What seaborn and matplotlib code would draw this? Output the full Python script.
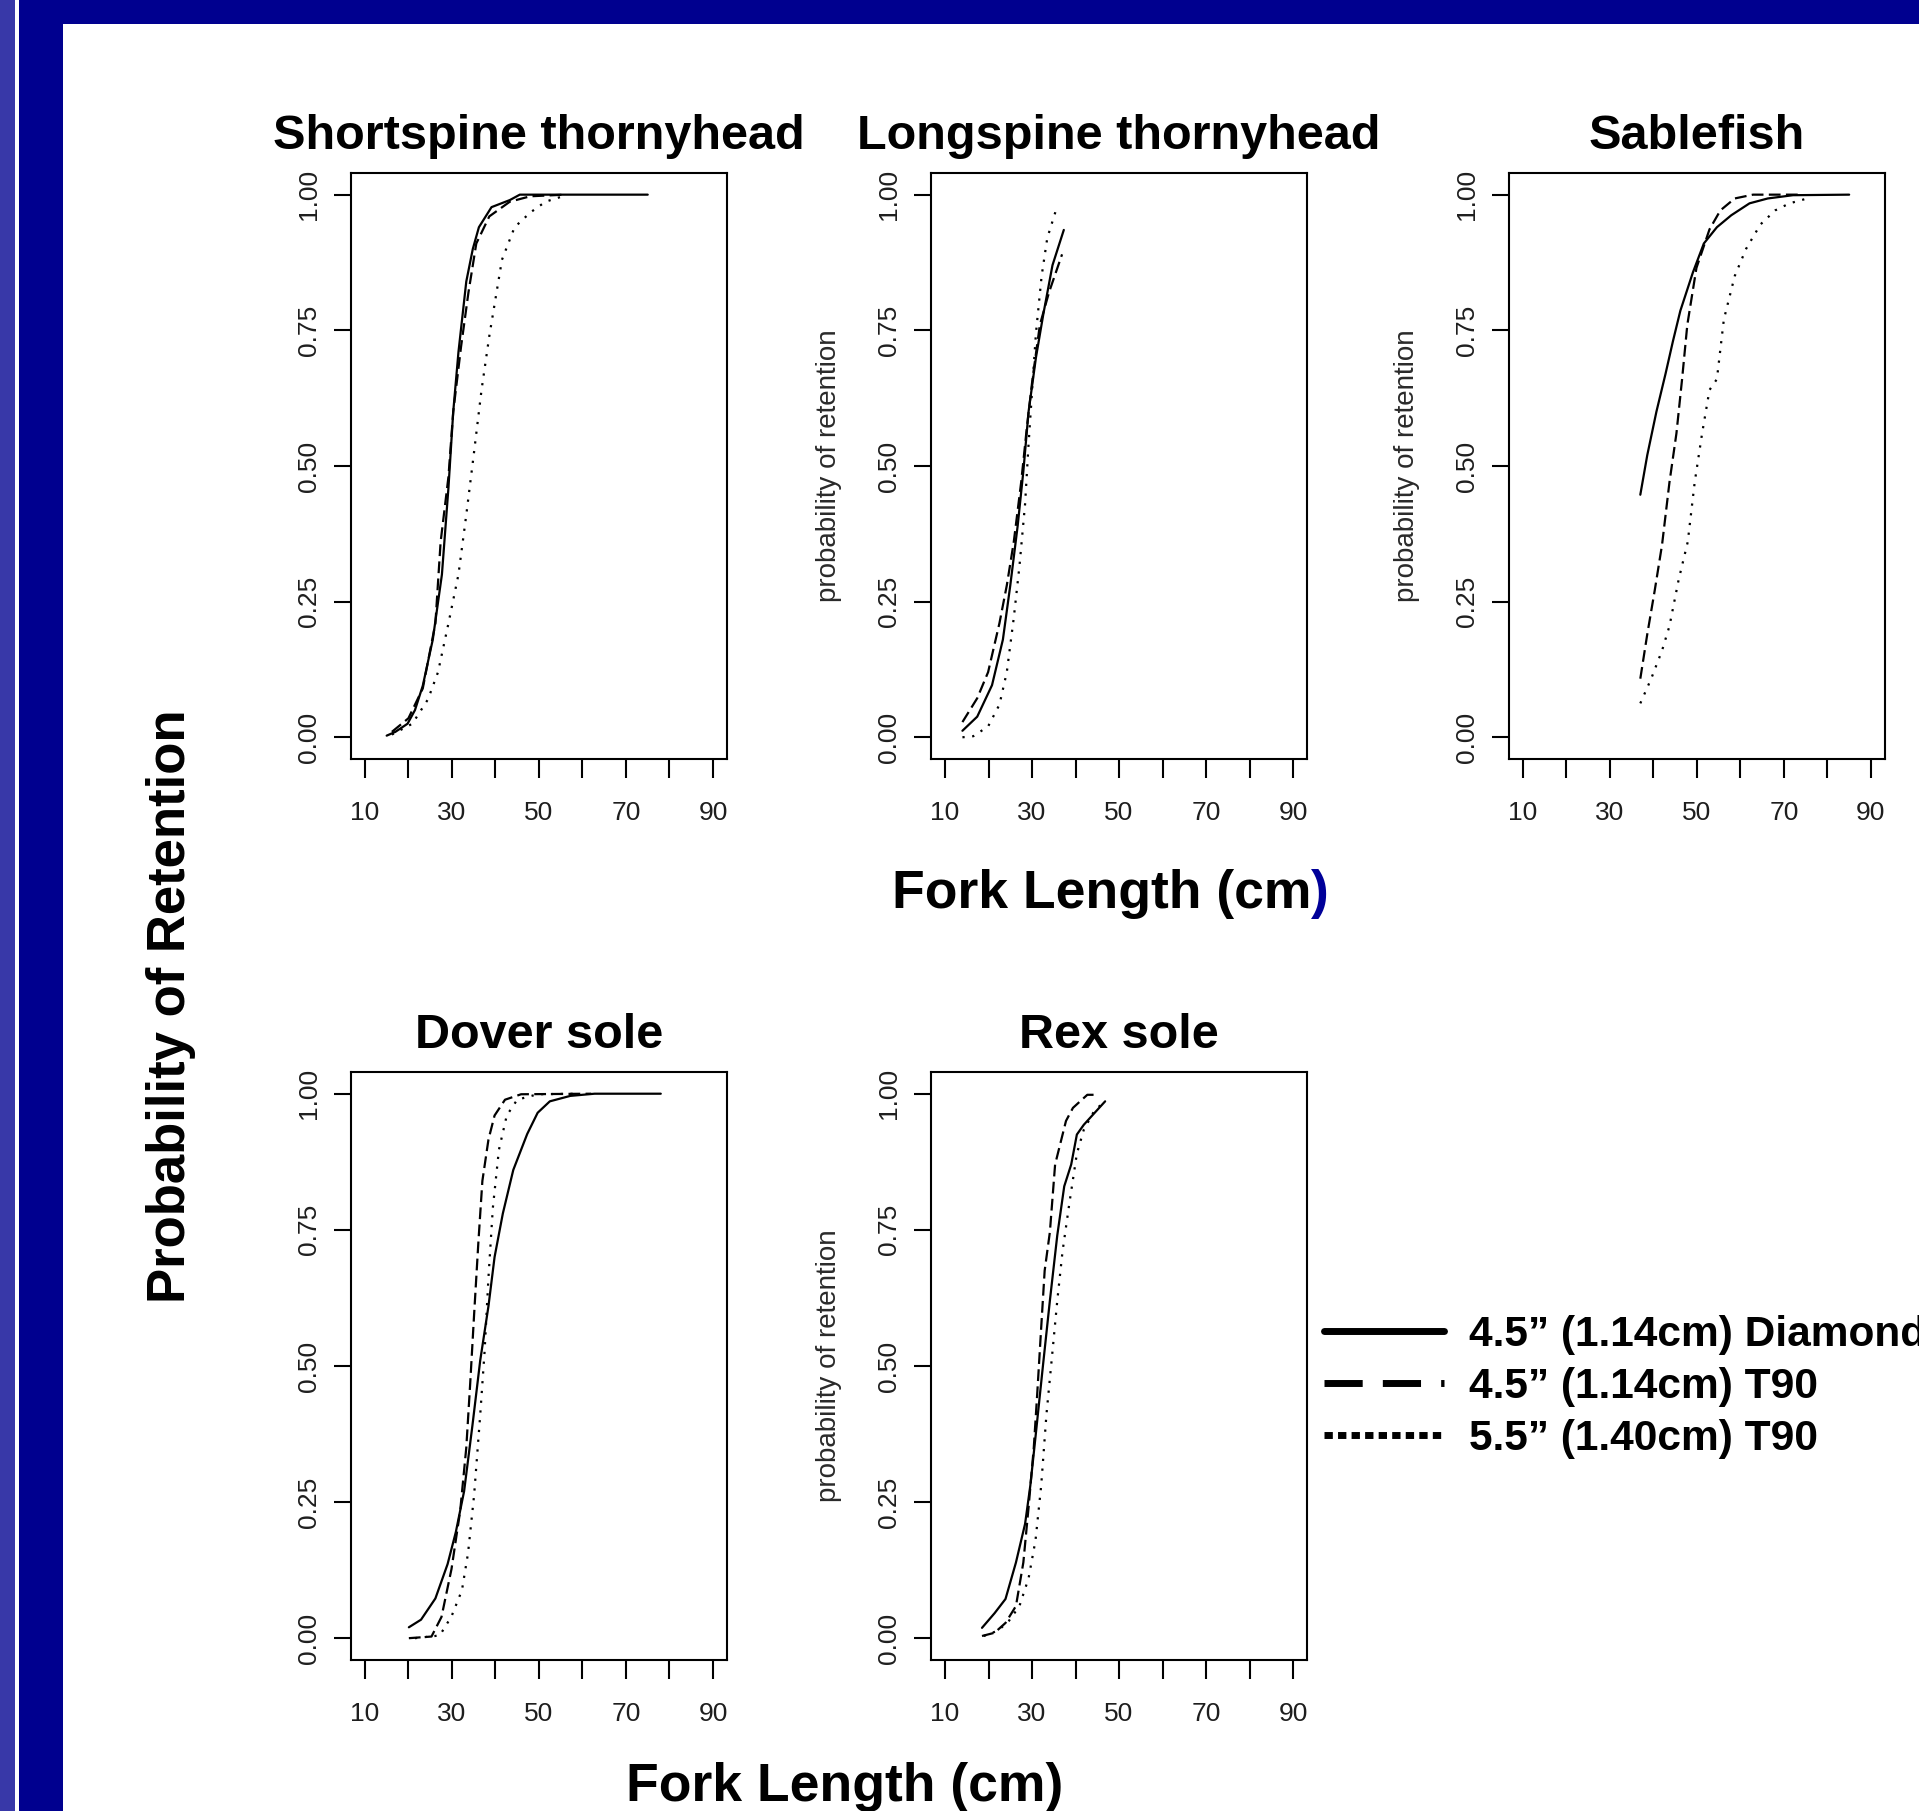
import numpy as np
import pandas as pd
import matplotlib
matplotlib.use("Agg")
import matplotlib.pyplot as plt
import seaborn as sns
from matplotlib.lines import Line2D
from matplotlib.patches import Rectangle
from matplotlib.text import Annotation

# gear types (legend order) and species panels
gears = ["4.5\u201d (1.14cm) Diamond", "4.5\u201d (1.14cm) T90", "5.5\u201d (1.40cm) T90"]
species = ["Shortspine thornyhead", "Longspine thornyhead", "Sablefish", "Dover sole", "Rex sole"]

# values: fork length (cm) and probability of retention
short_dia_len = [15, 17, 19.8, 21.5, 23.3, 25.6, 27.7, 29.2, 30.3, 31.5, 33.3, 34.8, 36.2, 39.1, 43.3, 45.6, 75]
short_dia_p = [0.003, 0.01, 0.025, 0.05, 0.095, 0.18, 0.30, 0.46, 0.60, 0.71, 0.84, 0.90, 0.94, 0.977, 0.99, 1.0, 1.0]
short_t45_len = [16.2, 20, 23.3, 26.2, 27.4, 29.2, 30.3, 32.1, 33.8, 35.6, 38.6, 43.3, 48, 56]
short_t45_p = [0.01, 0.035, 0.09, 0.21, 0.36, 0.48, 0.60, 0.72, 0.82, 0.91, 0.96, 0.987, 0.997, 1.0]
short_t55_len = [16.2, 20.9, 24.5, 26.8, 29.2, 31.5, 33.3, 35.0, 36.8, 38.6, 41.5, 44.4, 48, 51.5, 55.5]
short_t55_p = [0.005, 0.025, 0.07, 0.12, 0.21, 0.30, 0.41, 0.52, 0.64, 0.74, 0.88, 0.94, 0.967, 0.987, 0.997]

long_dia_len = [14, 17.4, 20.8, 23.3, 25.0, 26.7, 28.0, 29.2, 30.9, 32.6, 34.7, 37.3]
long_dia_p = [0.012, 0.038, 0.096, 0.18, 0.28, 0.39, 0.49, 0.60, 0.70, 0.78, 0.87, 0.935]
long_t45_len = [14, 17.4, 19.9, 22.5, 24.2, 25.8, 27.5, 28.8, 30.1, 31.8, 33.9, 36.9]
long_t45_p = [0.028, 0.072, 0.12, 0.21, 0.28, 0.36, 0.47, 0.57, 0.66, 0.76, 0.82, 0.89]
long_t55_len = [14, 16.5, 19.9, 22.5, 24.2, 25.8, 27.1, 28.4, 29.2, 30.1, 30.9, 32.2, 33.5, 35.6]
long_t55_p = [0.0, 0.002, 0.02, 0.06, 0.12, 0.22, 0.315, 0.43, 0.54, 0.65, 0.745, 0.85, 0.92, 0.974]

sable_dia_len = [37, 38.6, 40.7, 42.8, 44.5, 46.2, 49.1, 51.6, 54.6, 57.9, 62.1, 66.3, 72.1, 85]
sable_dia_p = [0.447, 0.52, 0.60, 0.67, 0.73, 0.786, 0.857, 0.91, 0.94, 0.962, 0.984, 0.993, 0.999, 1.0]
sable_t45_len = [37, 38.6, 40.3, 42, 43.7, 45.3, 46.6, 47.8, 49.9, 52.9, 55.4, 58.7, 62.9, 73.5]
sable_t45_p = [0.108, 0.19, 0.27, 0.355, 0.47, 0.56, 0.66, 0.76, 0.865, 0.936, 0.971, 0.993, 1.0, 1.0]
sable_t55_len = [37, 39.5, 42, 43.7, 45.8, 47.9, 49.5, 51.2, 52.9, 54.6, 56.2, 58.7, 61.3, 64.6, 68, 71.3, 76.3]
sable_t55_p = [0.0625, 0.108, 0.16, 0.205, 0.29, 0.36, 0.47, 0.56, 0.64, 0.66, 0.77, 0.85, 0.90, 0.945, 0.971, 0.984, 0.995]

dover_dia_len = [20.1, 22.9, 26.2, 29.0, 30.9, 32.8, 34.7, 36.5, 38.4, 39.8, 41.7, 44.1, 47.3, 49.7, 52.5, 57.2, 62.8, 78]
dover_dia_p = [0.02, 0.034, 0.073, 0.136, 0.195, 0.27, 0.39, 0.51, 0.61, 0.70, 0.78, 0.86, 0.926, 0.965, 0.986, 0.996, 1.0, 1.0]
dover_t45_len = [20.1, 25.3, 27.6, 29.9, 31.9, 33.3, 34.2, 35.1, 36.1, 37.0, 38.4, 39.8, 42.2, 45.9, 62]
dover_t45_p = [0.0, 0.003, 0.039, 0.127, 0.234, 0.35, 0.468, 0.595, 0.73, 0.84, 0.916, 0.96, 0.989, 0.999, 1.0]
dover_t55_len = [21.5, 27.2, 29.9, 32.3, 33.7, 35.1, 36.5, 37.5, 38.4, 39.4, 40.8, 42.6, 45, 49.7, 59]
dover_t55_p = [0.0, 0.005, 0.04, 0.088, 0.156, 0.263, 0.41, 0.526, 0.663, 0.79, 0.897, 0.96, 0.989, 0.999, 1.0]

rex_dia_len = [18.5, 21.4, 23.9, 26.3, 28.4, 29.6, 30.8, 32.5, 34.1, 35.8, 37.4, 39.0, 40.3, 41.9, 44.4, 46.8]
rex_dia_p = [0.019, 0.046, 0.072, 0.139, 0.21, 0.28, 0.37, 0.50, 0.62, 0.74, 0.83, 0.87, 0.925, 0.943, 0.965, 0.986]
rex_t45_len = [18.5, 21.4, 23.9, 26.3, 28.0, 29.2, 30.4, 31.2, 32.1, 32.9, 34.1, 35.3, 37.8, 39.4, 42.7, 45.2]
rex_t45_p = [0.004, 0.01, 0.028, 0.059, 0.139, 0.24, 0.35, 0.45, 0.57, 0.675, 0.746, 0.87, 0.95, 0.974, 0.998, 0.998]
rex_t55_len = [18.9, 22.2, 24.7, 27.1, 29.2, 30.8, 32.1, 33.3, 34.5, 35.8, 37.0, 38.6, 40.3, 41.9, 44.4, 46.4]
rex_t55_p = [0.004, 0.014, 0.032, 0.059, 0.11, 0.18, 0.28, 0.41, 0.51, 0.62, 0.71, 0.80, 0.89, 0.934, 0.97, 0.983]

x_ticks = [10, 20, 30, 40, 50, 60, 70, 80, 90]
x_ticklabels = ["10", "", "30", "", "50", "", "70", "", "90"]
y_ticks = [0, 0.25, 0.5, 0.75, 1.0]
y_ticklabels = ["0.00", "0.25", "0.50", "0.75", "1.00"]

curves = {
    species[0]: [(short_dia_len, short_dia_p), (short_t45_len, short_t45_p), (short_t55_len, short_t55_p)],
    species[1]: [(long_dia_len, long_dia_p), (long_t45_len, long_t45_p), (long_t55_len, long_t55_p)],
    species[2]: [(sable_dia_len, sable_dia_p), (sable_t45_len, sable_t45_p), (sable_t55_len, sable_t55_p)],
    species[3]: [(dover_dia_len, dover_dia_p), (dover_t45_len, dover_t45_p), (dover_t55_len, dover_t55_p)],
    species[4]: [(rex_dia_len, rex_dia_p), (rex_t45_len, rex_t45_p), (rex_t55_len, rex_t55_p)],
}

rows = []
for sp, series in curves.items():
    for gear, (lens, probs) in zip(gears, series):
        for l, p in zip(lens, probs):
            rows.append({"species": sp, "gear": gear, "length": l, "prob": p})
df = pd.DataFrame(rows)

sns.set_style("ticks")
plt.rcParams["font.family"] = ["Liberation Sans", "DejaVu Sans"]
plt.rcParams["text.color"] = "black"
plt.rcParams["axes.labelcolor"] = "black"
plt.rcParams["axes.linewidth"] = 1.5

W, H = 1919, 1811
fig = plt.figure(figsize=(W / 100, H / 100), dpi=100, facecolor="white")

# slide frame (dark blue border)
navy = "#00008f"
fig.add_artist(Rectangle((0, 0), 15 / W, 1, transform=fig.transFigure, color="#3838a8", lw=0, zorder=-5))
fig.add_artist(Rectangle((19 / W, 0), 44 / W, 1, transform=fig.transFigure, color=navy, lw=0, zorder=-5))
fig.add_artist(Rectangle((19 / W, 1 - 24 / H), 1, 24 / H, transform=fig.transFigure, color=navy, lw=0, zorder=-5))

panel_pos = {
    species[0]: [0.1829, 0.5809, 0.1959, 0.3236],
    species[1]: [0.4852, 0.5809, 0.1959, 0.3236],
    species[2]: [0.7863, 0.5809, 0.1959, 0.3236],
    species[3]: [0.1829, 0.0834, 0.1959, 0.3247],
    species[4]: [0.4852, 0.0834, 0.1959, 0.3247],
}
show_ylabel = {species[0]: False, species[1]: True, species[2]: True, species[3]: False, species[4]: True}

dash_map = {gears[0]: "", gears[1]: (5.3, 2.4), gears[2]: (1.0, 3.4)}
tick_col = "#1e1e1e"

for sp in species:
    ax = fig.add_axes(panel_pos[sp])
    sub = df[df["species"] == sp]
    sns.lineplot(data=sub, x="length", y="prob", style="gear", style_order=gears,
                 dashes=dash_map, color="black", linewidth=1.6, estimator=None,
                 sort=False, legend=False, ax=ax)
    ax.set_xlim(6.8, 93.2)
    ax.set_ylim(-0.04, 1.04)
    ax.set_xticks(x_ticks)
    ax.set_xticklabels(x_ticklabels)
    ax.set_yticks(y_ticks)
    ax.set_yticklabels(y_ticklabels, rotation=90, va="center")
    ax.tick_params(axis="x", length=13.5, width=1.5, pad=17, labelsize=19, colors="black", labelcolor=tick_col)
    ax.tick_params(axis="y", length=12, width=1.5, pad=9.5, labelsize=19, colors="black", labelcolor=tick_col)
    for s in ax.spines.values():
        s.set_visible(True)
        s.set_color("black")
        s.set_linewidth(1.5)
    ax.set_xlabel("")
    if show_ylabel[sp]:
        ax.set_ylabel("probability of retention", fontsize=20, color="#2a2a2a")
        ax.yaxis.set_label_coords(-0.237, 0.5)
    else:
        ax.set_ylabel("")
    ax.set_title(sp, fontsize=35, fontweight="bold", pad=17, color="black")

# shared axis labels
fig.text(0.0891, 0.4445, "Probability of Retention", rotation=90, ha="center", va="center",
         fontsize=38, fontweight="bold", color="black")
t1 = fig.text(0.4648, 0.4986, "Fork Length (cm", ha="left", va="baseline", fontsize=38.5,
              fontweight="bold", color="black")
fig.add_artist(Annotation(")", xy=(1, 0), xycoords=t1, va="bottom", ha="left",
                          fontsize=38.5, fontweight="bold", color="#000099"))
fig.text(0.44, 0.0055, "Fork Length (cm)", ha="center", va="baseline", fontsize=38.5,
         fontweight="bold", color="black")

# legend
handles = [
    Line2D([], [], color="black", lw=5, linestyle="-"),
    Line2D([], [], color="black", lw=5, dashes=(5.5, 2.9)),
    Line2D([], [], color="black", lw=5, dashes=(1.2, 0.75)),
]
fig.legend(handles, gears, loc="center left", bbox_to_anchor=(0.690, 0.2341), frameon=False,
           prop={"weight": "bold", "size": 30.6}, handlelength=2.83, handletextpad=0.59,
           labelspacing=0.29, borderaxespad=0, borderpad=0, labelcolor="black")

fig.savefig("out.png", dpi=100, facecolor="white")
